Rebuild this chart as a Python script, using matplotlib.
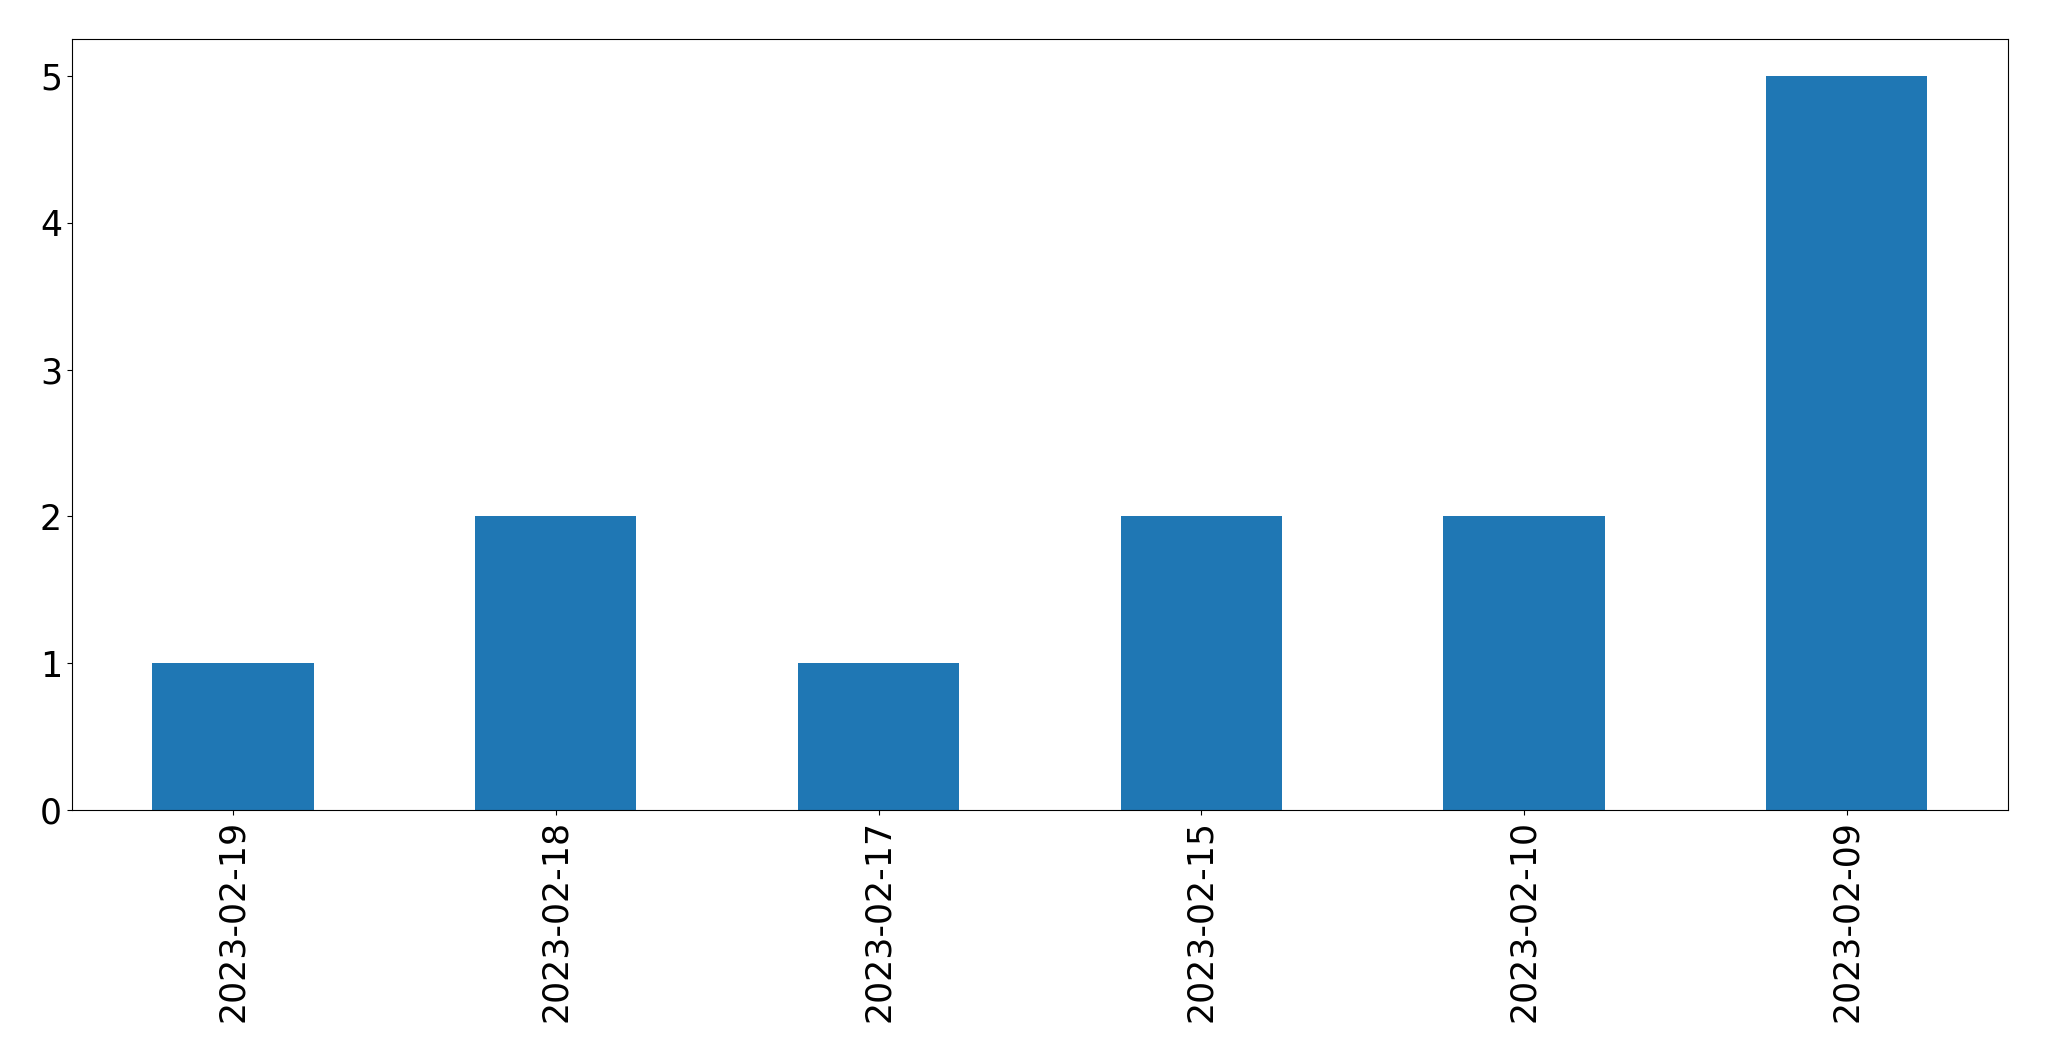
import matplotlib
matplotlib.use("Agg")
import matplotlib.pyplot as plt
import numpy as np

dates = ["2023-02-19", "2023-02-18", "2023-02-17", "2023-02-15", "2023-02-10", "2023-02-09"]
counts = [1, 2, 1, 2, 2, 5]

fig = plt.figure(figsize=(20.49, 10.61), dpi=100)
ax = fig.add_axes([0.035, 0.2365, 0.945, 0.7265])

x = np.arange(len(dates))
ax.bar(x, counts, width=0.5, color="#1f77b4")
ax.set_xlim(-0.5, len(dates) - 0.5)
ax.set_xticks(x)
ax.set_xticklabels(dates, rotation=90, fontsize=25)
ax.tick_params(axis="y", labelsize=25)
ax.set_yticks(range(0, 6))

fig.savefig("out.png", dpi=100)
